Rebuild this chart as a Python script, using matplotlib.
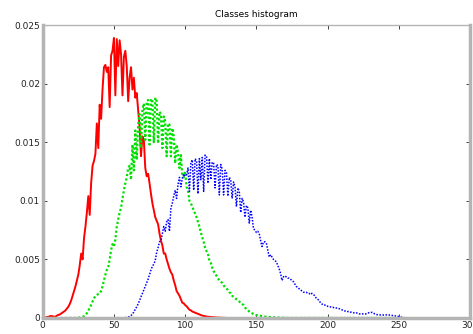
import matplotlib
matplotlib.use('Agg')
import matplotlib.pyplot as plt
import numpy as np

# histogram values (x 0.001), read bin by bin from the picture
red_start = 0
red_vals = [0.0, 0.02, 0.05, 0.08, 0.1, 0.15, 0.17, 0.14, 0.1, 0.12,
	0.2, 0.26, 0.3, 0.38, 0.45, 0.55, 0.65, 0.8, 0.96, 1.2,
	1.5, 1.9, 2.3, 2.7, 3.2, 3.7, 4.5, 5.5, 5.0, 6.8,
	7.8, 9.0, 10.4, 8.8, 11.5, 13.0, 13.4, 14.0, 16.6, 14.5,
	18.2, 17.0, 19.5, 21.4, 21.6, 21.0, 21.4, 18.0, 22.4, 22.8,
	23.9, 19.0, 23.8, 21.5, 23.7, 22.5, 19.0, 22.3, 22.8, 21.5,
	18.5, 20.5, 21.4, 19.5, 20.5, 18.8, 19.2, 17.7, 16.3, 13.8,
	15.5, 15.2, 12.8, 12.1, 12.3, 11.5, 10.6, 9.8, 9.2, 8.6,
	8.3, 8.0, 7.2, 6.6, 6.2, 5.5, 5.5, 5.0, 4.6, 4.2,
	3.9, 3.7, 3.2, 2.8, 2.3, 2.1, 1.9, 1.6, 1.3, 1.25,
	1.1, 1.0, 0.85, 0.7, 0.65, 0.55, 0.5, 0.45, 0.4, 0.35,
	0.3, 0.25, 0.2, 0.18, 0.15, 0.12, 0.1, 0.1, 0.08, 0.07,
	0.06, 0.05, 0.04, 0.03, 0.03, 0.02, 0.02, 0.01, 0.01, 0.0]

green_start = 25
green_vals = [0.02, 0.04, 0.06, 0.1, 0.15,
	0.25, 0.4, 0.6, 0.9, 1.1, 1.4, 1.7, 1.85, 1.95, 2.05,
	2.1, 2.3, 2.7, 3.2, 3.7, 4.1, 4.3, 5.0, 5.8, 6.3,
	6.1, 6.7, 7.8, 8.4, 9.0, 9.4, 10.2, 10.9, 11.5, 12.0,
	12.8, 13.0, 11.8, 14.8, 12.6, 16.0, 13.5, 16.5, 17.4, 14.5,
	17.8, 18.3, 15.2, 18.5, 18.6, 14.8, 18.7, 18.6, 15.0, 18.8,
	18.5, 14.9, 17.6, 17.4, 14.5, 17.2, 16.8, 13.8, 16.6, 16.5,
	13.8, 16.2, 15.5, 13.2, 14.8, 14.1, 12.8, 13.9, 12.1, 12.0,
	12.5, 11.2, 10.9, 10.0, 9.8, 9.5, 9.2, 8.9, 8.6, 8.2,
	7.8, 7.3, 6.9, 6.5, 6.0, 5.7, 5.5, 4.9, 4.7, 4.3,
	4.0, 3.8, 3.6, 3.4, 3.2, 3.1, 3.0, 2.8, 2.6, 2.5,
	2.4, 2.2, 2.1, 1.9, 1.8, 1.7, 1.6, 1.5, 1.4, 1.3,
	1.2, 1.1, 0.9, 0.75, 0.65, 0.55, 0.45, 0.4, 0.32, 0.28,
	0.25, 0.22, 0.2, 0.18, 0.16, 0.14, 0.12, 0.11, 0.1, 0.09,
	0.08, 0.07, 0.06, 0.05, 0.05, 0.04, 0.03, 0.03, 0.02, 0.02, 0.0]

blue_start = 58
blue_vals = [0.02, 0.05,
	0.08, 0.12, 0.2, 0.35, 0.5, 0.75, 0.95, 1.2, 1.5, 1.8,
	2.1, 2.4, 2.7, 3.0, 3.3, 3.7, 4.1, 4.4, 4.6, 4.9,
	5.6, 6.0, 6.5, 6.6, 7.2, 7.8, 7.4, 8.2, 8.4, 7.4,
	9.4, 9.8, 10.4, 10.9, 10.2, 11.4, 12.0, 11.2, 11.9, 12.3,
	12.1, 12.2, 12.8, 10.8, 13.2, 13.5, 10.9, 13.6, 13.4, 10.6,
	13.6, 11.8, 13.7, 10.8, 13.9, 13.8, 11.5, 13.6, 11.8, 13.3,
	13.2, 11.1, 13.1, 13.0, 10.5, 13.1, 12.7, 10.5, 12.6, 12.4,
	10.4, 12.0, 11.8, 10.2, 11.6, 11.2, 9.5, 11.1, 10.8, 9.0,
	10.2, 9.9, 8.6, 9.6, 9.4, 8.1, 9.2, 8.6, 7.6, 7.5,
	7.3, 7.4, 7.2, 6.6, 6.1, 6.5, 6.5, 6.4, 5.8, 5.2,
	5.4, 5.2, 5.0, 4.9, 4.8, 4.5, 4.2, 3.8, 3.2, 3.5,
	3.6, 3.5, 3.4, 3.4, 3.3, 3.2, 3.1, 2.9, 2.7, 2.6,
	2.5, 2.4, 2.3, 2.2, 2.2, 2.2, 2.1, 2.1, 2.0, 2.1,
	2.0, 1.9, 1.7, 1.6, 1.5, 1.3, 1.2, 1.1, 1.1, 1.1,
	1.0, 0.95, 0.95, 0.9, 0.9, 0.85, 0.85, 0.85, 0.8, 0.75,
	0.7, 0.65, 0.6, 0.6, 0.55, 0.55, 0.5, 0.5, 0.45, 0.45,
	0.45, 0.4, 0.35, 0.35, 0.34, 0.35, 0.35, 0.35, 0.4, 0.45,
	0.45, 0.48, 0.45, 0.35, 0.3, 0.28, 0.26, 0.26, 0.25, 0.25,
	0.25, 0.26, 0.26, 0.26, 0.24, 0.22, 0.2, 0.18, 0.17, 0.15,
	0.12, 0.1, 0.06, 0.03, 0.01, 0.0]

n_bins = 256
x_ticks = [0, 50, 100, 150, 200, 250, 300]
y_ticks = [0, 0.005, 0.01, 0.015, 0.02, 0.025]
y_labels = ['0', '0.005', '0.01', '0.015', '0.02', '0.025']


def full_series(start, vals):
	# bins outside the read range sit on zero
	y = np.zeros(n_bins)
	y[start:start + len(vals)] = np.array(vals) / 1000.0
	return y


bins = np.arange(n_bins)
red = full_series(red_start, red_vals)
green = full_series(green_start, green_vals)
blue = full_series(blue_start, blue_vals)

fig = plt.figure(figsize=(4.73, 3.34), dpi=100)
ax = fig.add_axes([0.0903, 0.048, 0.9034, 0.877])

ax.plot(bins, red, color='#ff0000', linewidth=1.4)
ax.plot(bins, green, color='#00e000', linewidth=1.6, linestyle=(0, (1, 1)))
ax.plot(bins, blue, color='#0000ff', linewidth=1.1, linestyle=(0, (1, 1)))

ax.set_xlim(0, 300)
ax.set_ylim(0, 0.025)
ax.set_xticks(x_ticks)
ax.set_xticklabels([str(t) for t in x_ticks])
ax.set_yticks(y_ticks)
ax.set_yticklabels(y_labels)
ax.tick_params(direction='in', length=3, width=0.6, labelsize=6.5,
	top=True, right=True, pad=2, colors='#222222')

for side in ['left', 'bottom', 'right']:
	ax.spines[side].set_color('#b4b4b4')
	ax.spines[side].set_linewidth(2.5)
ax.spines['top'].set_color('#b4b4b4')
ax.spines['top'].set_linewidth(1.0)

ax.set_title('Classes histogram', fontsize=6.5, pad=6)

fig.savefig('out.png', dpi=100)
